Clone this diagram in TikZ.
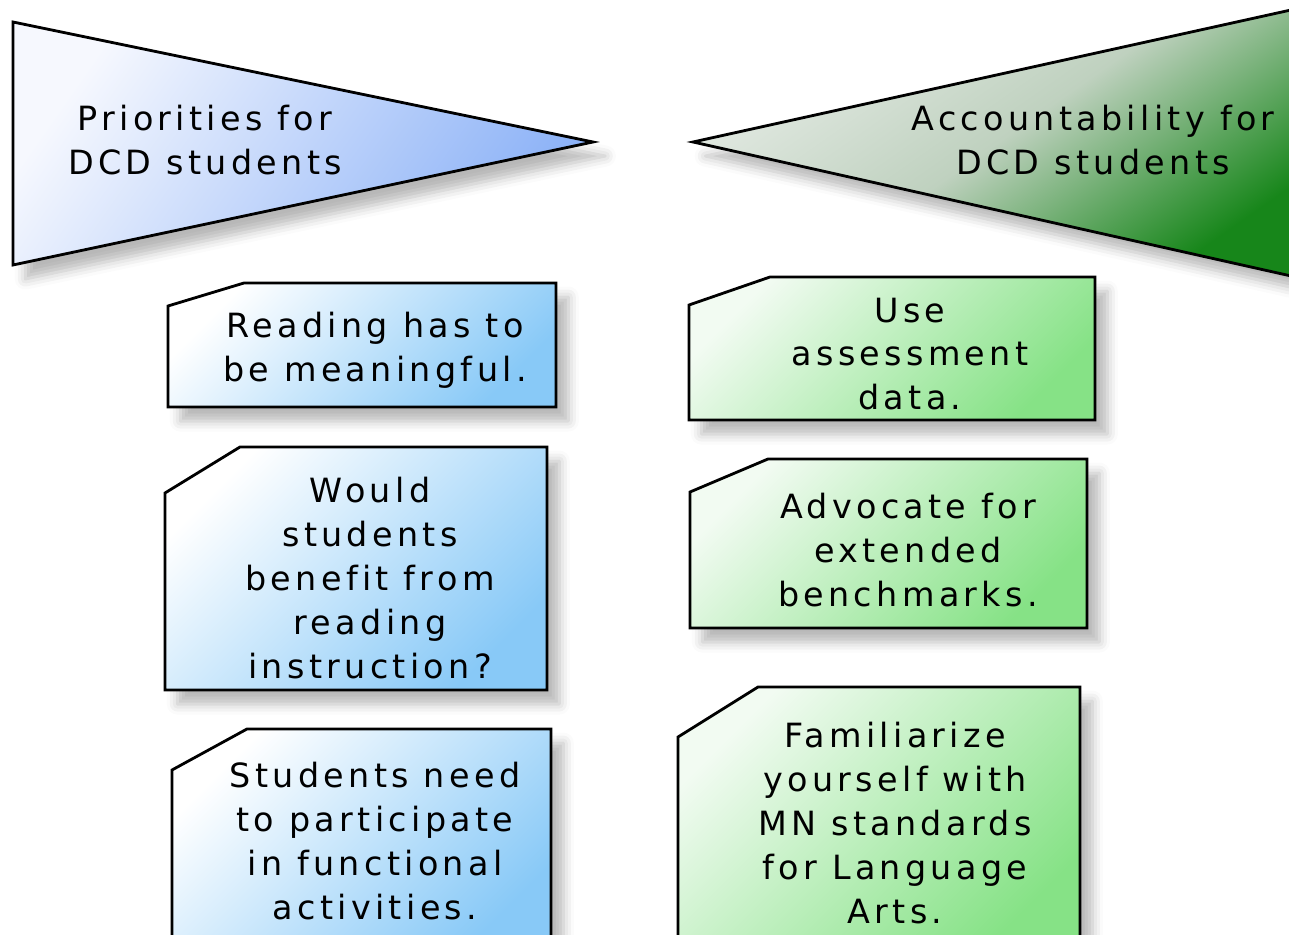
\documentclass[tikz,border=0pt]{standalone}
\usepackage{xcolor}
\usepackage{fontspec}
\usepackage{tikz}
\usetikzlibrary{shadows, shadows.blur}

\newfontfamily\boxfont[LetterSpace=13, Ligatures=NoCommon]{DejaVu Sans}

\definecolor{prioLight}{HTML}{F6F8FE}
\definecolor{prioDark}{HTML}{8CB2F7}
\definecolor{prioBoxDark}{HTML}{88C9F7}
\definecolor{accLight}{HTML}{E6ECE6}
\definecolor{accMid}{HTML}{BFD1BF}
\definecolor{accDark}{HTML}{17861A}
\definecolor{accBoxLight}{HTML}{F2FBF2}
\definecolor{accBoxDark}{HTML}{86E286}

\begin{document}
\begin{tikzpicture}[
    x=0.02cm, y=0.02cm,
    outline/.style={draw=black, line width=1.6pt, line join=miter,
        blur shadow={shadow xshift=7pt, shadow yshift=-8pt, shadow blur radius=6pt, shadow opacity=28}},
    priotri/.style={outline, shading=axis, top color=prioLight, bottom color=prioDark, shading angle=55},
    priobox/.style={outline, shading=axis, top color=white, bottom color=prioBoxDark, shading angle=45},
    acctri/.style={outline, shading=axis, top color=accLight, bottom color=accDark, middle color=accMid, shading angle=35},
    accbox/.style={outline, shading=axis, top color=accBoxLight, bottom color=accBoxDark, shading angle=45},
    boxtext/.style={font=\boxfont\fontsize{19}{25}\selectfont, align=center, inner sep=0pt}
]

\useasboundingbox (0,0) rectangle (1289,934);
\clip (0,0) rectangle (1289,934);

% Headings
\path[priotri] (13,912) -- (593,792) -- (13,669) -- cycle;
\node[boxtext] (prio) at (205,794) {Priorities for\\DCD students};

\path[acctri] (693,792) -- (1300,926) -- (1300,656) -- cycle;
\node[boxtext] (acc) at (1093,794) {Accountability for\\DCD students};

% Priorities column
\path[priobox] (244,651) -- (556,651) -- (556,527) -- (168,527) -- (168,628) -- cycle;
\node[boxtext] (meaning) at (375,584) {Reading has to\\be meaningful.};

\path[priobox] (240,487) -- (547,487) -- (547,244) -- (165,244) -- (165,441) -- cycle;
\node[boxtext] (benefit) at (370,356) {Would\\students\\benefit from\\reading\\instruction?};

\path[priobox] (247,205) -- (551,205) -- (551,-20) -- (172,-20) -- (172,164) -- cycle;
\node[boxtext] (participate) at (375,93) {Students need\\to participate\\in functional\\activities.};

% Accountability column
\path[accbox] (770,657) -- (1095,657) -- (1095,514) -- (689,514) -- (689,629) -- cycle;
\node[boxtext] (assess) at (910,580) {Use\\assessment\\data.};

\path[accbox] (768,475) -- (1087,475) -- (1087,306) -- (690,306) -- (690,442) -- cycle;
\node[boxtext] (advocate) at (908,384) {Advocate for\\extended\\benchmarks.};

\path[accbox] (758,247) -- (1080,247) -- (1080,-20) -- (678,-20) -- (678,197) -- cycle;
\node[boxtext] (standards) at (895,111) {Familiarize\\yourself with\\MN standards\\for Language\\Arts.};

\end{tikzpicture}
\end{document}
